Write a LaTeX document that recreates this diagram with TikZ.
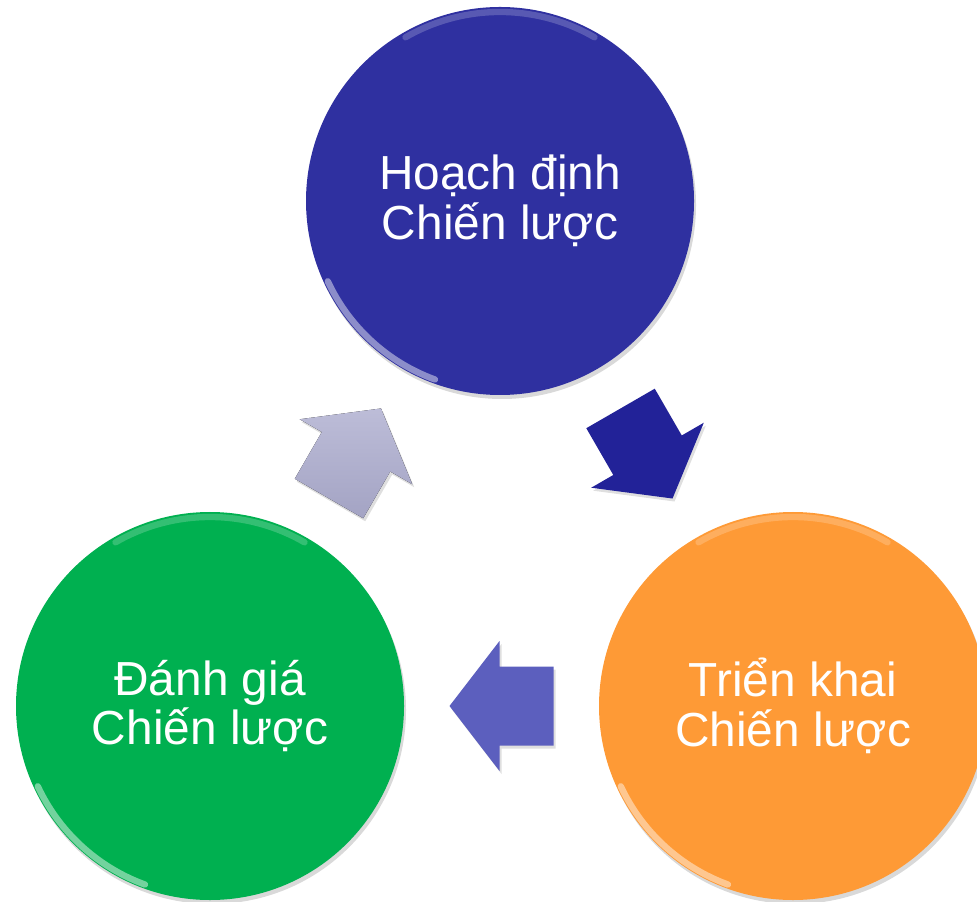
\documentclass[tikz,border=0pt]{standalone}
\usepackage{fontspec}
\setmainfont{Liberation Sans}
\usetikzlibrary{calc,shadows}

\definecolor{planblue}{RGB}{47,48,160}
\definecolor{stratgreen}{RGB}{0,176,80}
\definecolor{implorange}{RGB}{254,154,54}
\definecolor{arrowdark}{RGB}{34,34,152}
\definecolor{arrowmid}{RGB}{92,95,190}
\definecolor{arrowpale}{RGB}{172,172,206}

\tikzset{
  stage/.style={circle, minimum size=3.88cm, inner sep=0pt, text=white, align=center,
    font=\fontsize{13.6}{14.2}\selectfont,
    drop shadow={opacity=0.3, shadow xshift=0.02cm, shadow yshift=-0.04cm}},
  rim/.style={white, line width=1.8pt, opacity=0.2, line cap=round},
  pics/cyclearrow/.style={code={
    \fill[drop shadow={opacity=0.25, shadow xshift=0.02cm, shadow yshift=-0.03cm}, #1]
      (-0.52,0.395) -- (0.02,0.395) -- (0.02,0.65) -- (0.52,0)
      -- (0.02,-0.65) -- (0.02,-0.395) -- (-0.52,-0.395) -- cycle;
  }}
}

\begin{document}
\begin{tikzpicture}
\useasboundingbox (0,0) rectangle (9.77,9.01);
% the three stages
\node[stage, fill=planblue] (plan) at (5.00,7.00) {Hoạch định\\Chiến lược};
\node[stage, fill=implorange] (impl) at (7.93,1.95) {Triển khai\\Chiến lược};
\node[stage, fill=stratgreen] (eval) at (2.10,1.95) {Đánh giá\\Chiến lược};
% light rims
\foreach \s in {plan,impl,eval} {
  \draw[rim] (\s.center) ++(60:1.89) arc (60:120:1.89);
  \draw[rim, opacity=0.45] (\s.center) ++(205:1.9) arc (205:250:1.9);
}
% arrows between stages
\pic[rotate=-60] at ($(plan)!0.5!(impl)$) {cyclearrow={fill=arrowdark}};
\pic[rotate=180] at ($(impl)!0.5!(eval)$) {cyclearrow={fill=arrowmid}};
\pic[rotate=60] at ($(eval)!0.5!(plan)$) {cyclearrow={top color=arrowpale!80!white, bottom color=arrowpale!95!black}};
\end{tikzpicture}
\end{document}
